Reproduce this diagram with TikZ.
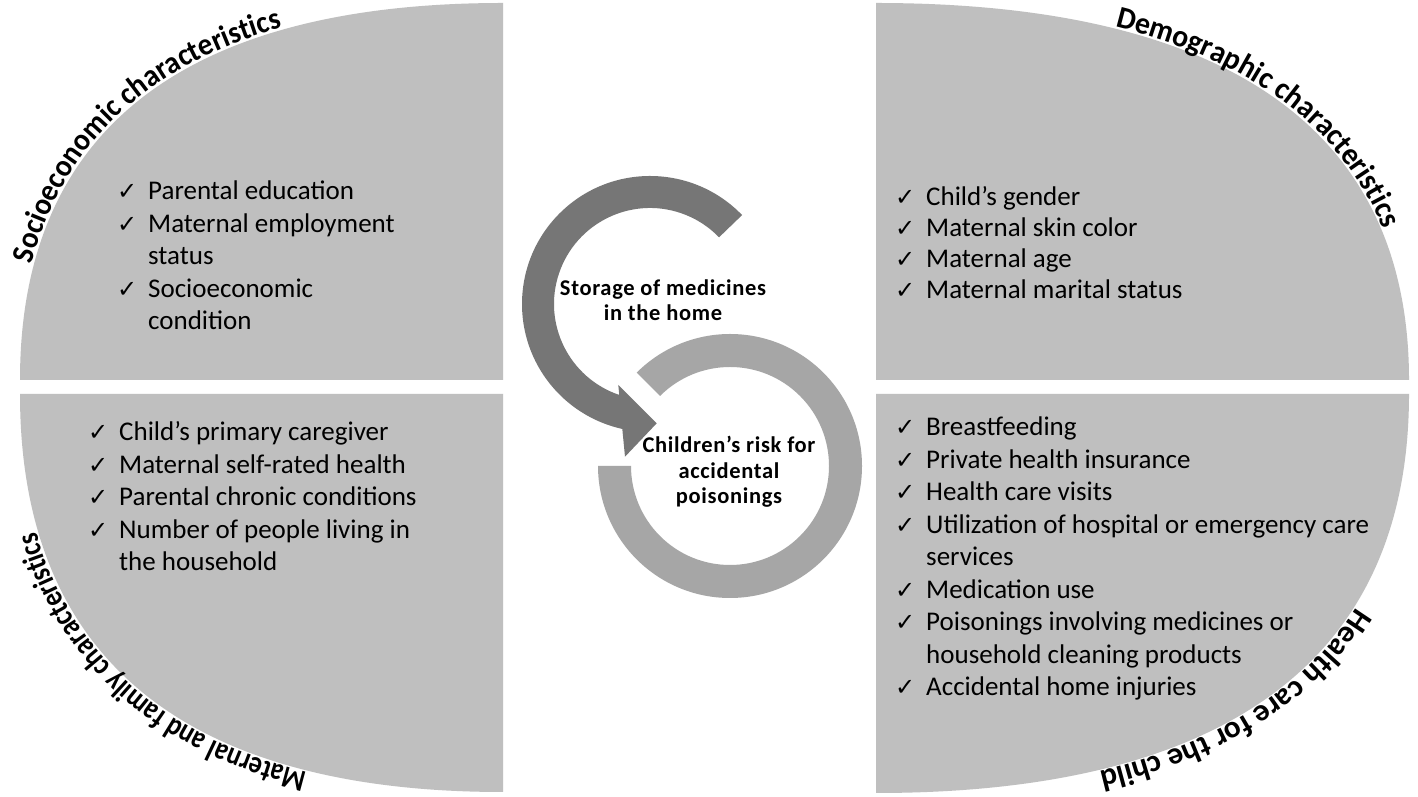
\documentclass[tikz,border=0pt]{standalone}
\usepackage{fontspec}
\setmainfont{Carlito}
\newfontfamily\checkfont{DejaVu Sans}
\newfontfamily\ttlTL[FakeStretch=0.94]{Carlito}
\newfontfamily\ttlTR[FakeStretch=0.96]{Carlito}
\newfontfamily\ttlBR[FakeStretch=1.01]{Carlito}
\newfontfamily\ttlBL[FakeStretch=0.84]{Carlito}
\usetikzlibrary{decorations.text,calc}
\definecolor{quad}{RGB}{191,191,191}
\definecolor{darkarc}{RGB}{118,118,118}
\definecolor{lightring}{RGB}{166,166,166}
\newcommand\ck{\makebox[31pt][l]{\checkfont\fontsize{24}{24}\selectfont ✓}}
\newcommand\ttlsize{\bfseries\fontsize{31}{31}\selectfont}
\begin{document}
\begin{tikzpicture}[x=1pt,y=1pt,
  list/.style={inner sep=0pt, anchor=base west, font=\fontsize{27}{32.5}\selectfont},
  listr/.style={inner sep=0pt, anchor=base west, font=\fontsize{27}{31}\selectfont},
  ctext/.style={inner sep=0pt, align=center, font=\bfseries\addfontfeature{LetterSpace=3}\fontsize{22.5}{25.5}\selectfont},
  quadfill/.style={fill=quad, draw=none}]
\useasboundingbox (0,0) rectangle (1418,797);
\fill[white] (0,0) rectangle (1418,797);
% quadrants
\path[quadfill] (503,417) -- (20,417) .. controls (20,688.4) and (213.2,794) .. (503,794) -- cycle;
\path[quadfill] (503,403) -- (20,403) .. controls (20,116.4) and (213.2,5) .. (503,5) -- cycle;
\path[quadfill] (876,417) -- (876,794) .. controls (1195.8,794) and (1409,688.4) .. (1409,417) -- cycle;
\path[quadfill] (876,403) -- (1409,403) .. controls (1409,115.7) and (1195.8,4) .. (876,4) -- cycle;
% titles (baseline just outside each curved edge)
\path[decorate, decoration={text along path, text={|\ttlTL\ttlsize|Socioeconomic characteristics},
    text align={left indent=117pt}}]
  (18,417) .. controls (18,689.9) and (212,796) .. (503,796);
\path[decorate, decoration={text along path, text={|\ttlBL\ttlsize|Maternal and family characteristics},
    text align={left indent=197pt}}]
  (503,3) .. controls (212,3) and (18,115) .. (18,403);
\path[decorate, decoration={text along path, text={|\ttlTR\ttlsize|Demographic characteristics},
    text align={left indent=241pt}}]
  (876,796) .. controls (1197,796) and (1411,689.9) .. (1411,417);
\path[decorate, decoration={text along path, text={|\ttlBR\ttlsize|Health care for the child},
    text align={left indent=223pt}}]
  (1411,403) .. controls (1411,114.3) and (1197,2) .. (876,2);
% lists
\node[list] (tl) at (117,597) {\begin{tabular}[t]{@{}l@{}}
\ck Parental education\\
\ck Maternal employment\\
\hspace*{31pt}status\\
\ck Socioeconomic\\
\hspace*{31pt}condition
\end{tabular}};
\node[list] (bl) at (88,356) {\begin{tabular}[t]{@{}l@{}}
\ck Child’s primary caregiver\\
\ck Maternal self-rated health\\
\ck Parental chronic conditions\\
\ck Number of people living in\\
\hspace*{31pt}the household
\end{tabular}};
\node[listr] (tr) at (895,591) {\begin{tabular}[t]{@{}l@{}}
\ck Child’s gender\\
\ck Maternal skin color\\
\ck Maternal age\\
\ck Maternal marital status
\end{tabular}};
\node[list] (br) at (895,361) {\begin{tabular}[t]{@{}l@{}}
\ck Breastfeeding\\
\ck Private health insurance\\
\ck Health care visits\\
\ck Utilization of hospital or emergency care\\
\hspace*{31pt}services\\
\ck Medication use\\
\ck Poisonings involving medicines or\\
\hspace*{31pt}household cleaning products\\
\ck Accidental home injuries
\end{tabular}};
% centre graphic
\fill[lightring] ([shift={(730,331)}]-180:132) arc[start angle=-180,end angle=135,radius=132]
  -- ([shift={(730,331)}]135:99) arc[start angle=135,end angle=-180,radius=99] -- cycle;
\fill[darkarc] ([shift={(650,493)}]44:128) arc[start angle=44,end angle=257.5,radius=128]
  -- (625,340.3) -- (656.7,373.7) -- (618.3,412)
  -- ([shift={(650,493)}]251.3:96) arc[start angle=251.3,end angle=44,radius=96] -- cycle;
\node[ctext] (store) at (663,497) {Storage of medicines\\in the home};
\node[ctext] (risk) at (729,325) {Children’s risk for\\accidental\\poisonings};
\end{tikzpicture}
\end{document}
